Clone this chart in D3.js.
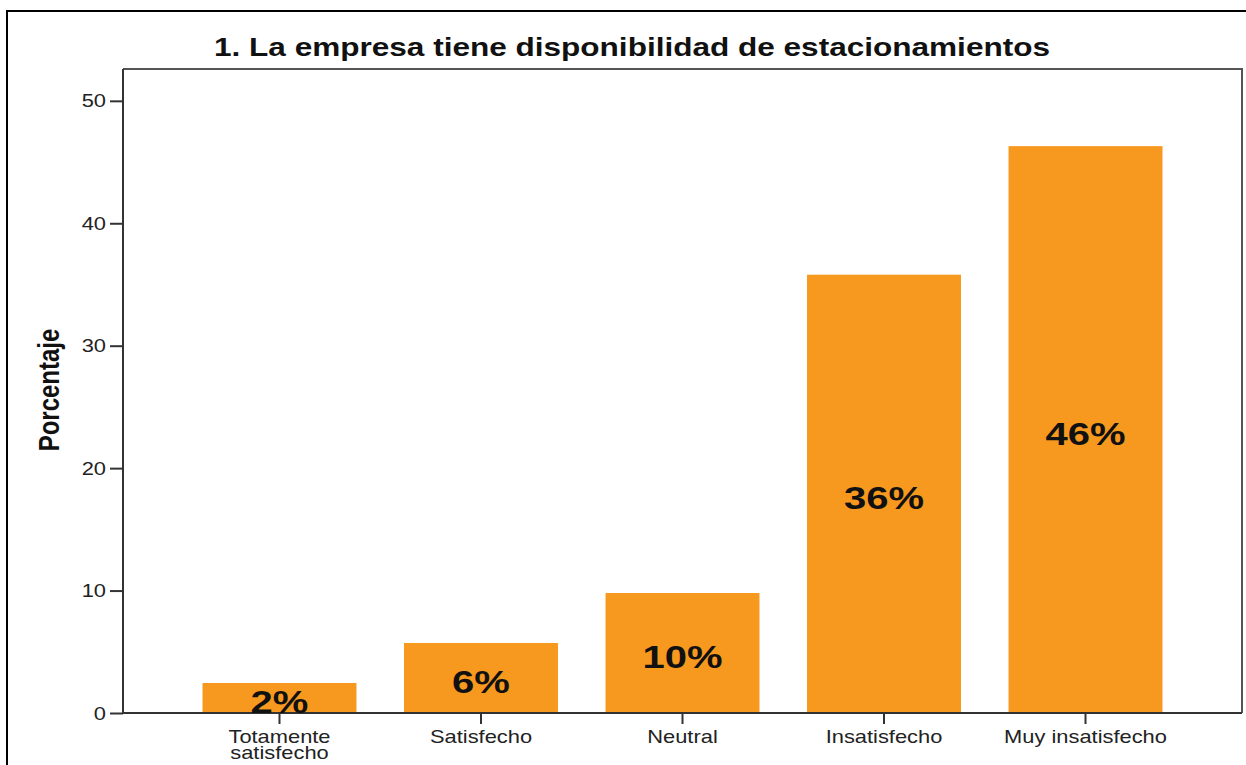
<!DOCTYPE html>
<html>
<head>
<meta charset="utf-8">
<script src="https://cdn.jsdelivr.net/npm/d3@7"></script>
<style>
  html, body { margin: 0; padding: 0; background: #fff; }
  svg { display: block; }
  text { font-family: "Liberation Sans", Arial, sans-serif; }
</style>
</head>
<body>
<svg id="chart" width="1246" height="765"></svg>
<script>
const title = "1. La empresa tiene disponibilidad de estacionamientos";
const categories = ["Totamente satisfecho", "Satisfecho", "Neutral", "Insatisfecho", "Muy insatisfecho"];
const tickLabels = [["Totamente", "satisfecho"], ["Satisfecho"], ["Neutral"], ["Insatisfecho"], ["Muy insatisfecho"]];
const values = [2.45, 5.72, 9.8, 35.8, 46.3];
const barLabels = ["2%", "6%", "10%", "36%", "46%"];
const yTicks = [0, 10, 20, 30, 40, 50];
const yLabel = "Porcentaje";

const SX = 1.25; // horizontal stretch of the original picture
const svg = d3.select("#chart");
const pL = 123, pR = 1242, pT = 69, pB = 713;

// outer border
svg.append("rect").attr("x", 7).attr("y", 11).attr("width", 1260).attr("height", 780)
  .attr("fill", "none").attr("stroke", "#000").attr("stroke-width", 2);

const x = d3.scaleBand().domain(categories).range([pL, pR])
  .paddingInner(0.236).paddingOuter(0.3946);
const y = d3.scaleLinear().domain([0, 52.6]).range([pB, pT]);

// bars
svg.append("g").selectAll("rect").data(categories).join("rect")
  .attr("x", d => x(d)).attr("width", x.bandwidth())
  .attr("y", (d, i) => y(values[i])).attr("height", (d, i) => y(0) - y(values[i]))
  .attr("fill", "#F7991E");

// frame (top and right)
svg.append("path")
  .attr("d", `M${pL},${pT}H${pR}V${pB}`)
  .attr("fill", "none").attr("stroke", "#555").attr("stroke-width", 2);

// y axis
const yAxis = svg.append("g").attr("transform", `translate(${pL},0)`)
  .call(d3.axisLeft(y).tickValues(yTicks).tickSize(13).tickPadding(4).tickFormat(d3.format("d")));
yAxis.select(".domain").attr("d", `M0,${pT}V${pB}`).attr("stroke", "#333").attr("stroke-width", 2);
yAxis.selectAll(".tick line").attr("stroke", "#333").attr("stroke-width", 2);
yAxis.selectAll(".tick text").each(function() {
  const t = d3.select(this);
  t.attr("x", null).attr("dy", null).attr("y", 6)
   .attr("transform", `translate(-17,0) scale(${SX},1)`)
   .attr("font-size", 17.5).attr("fill", "#222")
   .style("font-family", '"Liberation Sans", Arial, sans-serif');
});

// x axis
const xAxis = svg.append("g").attr("transform", `translate(0,${pB})`)
  .call(d3.axisBottom(x).tickSize(11).tickFormat(""));
xAxis.select(".domain").attr("d", `M${pL},0H${pR}`).attr("stroke", "#333").attr("stroke-width", 2);
xAxis.selectAll(".tick line").attr("stroke", "#333").attr("stroke-width", 2);
xAxis.selectAll(".tick").each(function(d, i) {
  const g = d3.select(this);
  const t = g.append("text").attr("text-anchor", "middle")
    .attr("transform", `translate(0,30) scale(${SX},1)`)
    .attr("font-size", 17.5).attr("fill", "#222");
  tickLabels[i].forEach((line, k) => {
    t.append("tspan").attr("x", 0).attr("y", k * 16).text(line);
  });
});

// bar value labels
svg.append("g").selectAll("text").data(categories).join("text")
  .attr("text-anchor", "middle")
  .attr("transform", (d, i) => `translate(${x(d) + x.bandwidth() / 2},${(y(values[i]) + y(0)) / 2 + 15}) scale(${SX},1)`)
  .attr("font-size", 32).attr("font-weight", "bold").attr("fill", "#111")
  .text((d, i) => barLabels[i]);

// title
svg.append("text").attr("text-anchor", "middle")
  .attr("transform", `translate(632,56) scale(1.262,1)`)
  .attr("font-size", 25).attr("font-weight", "bold").attr("fill", "#111")
  .text(title);

// y label
svg.append("text").attr("text-anchor", "middle")
  .attr("transform", `translate(59,390) scale(${SX},1) rotate(-90)`)
  .attr("font-size", 24).attr("font-weight", "bold").attr("fill", "#111")
  .text(yLabel);
</script>
</body>
</html>
